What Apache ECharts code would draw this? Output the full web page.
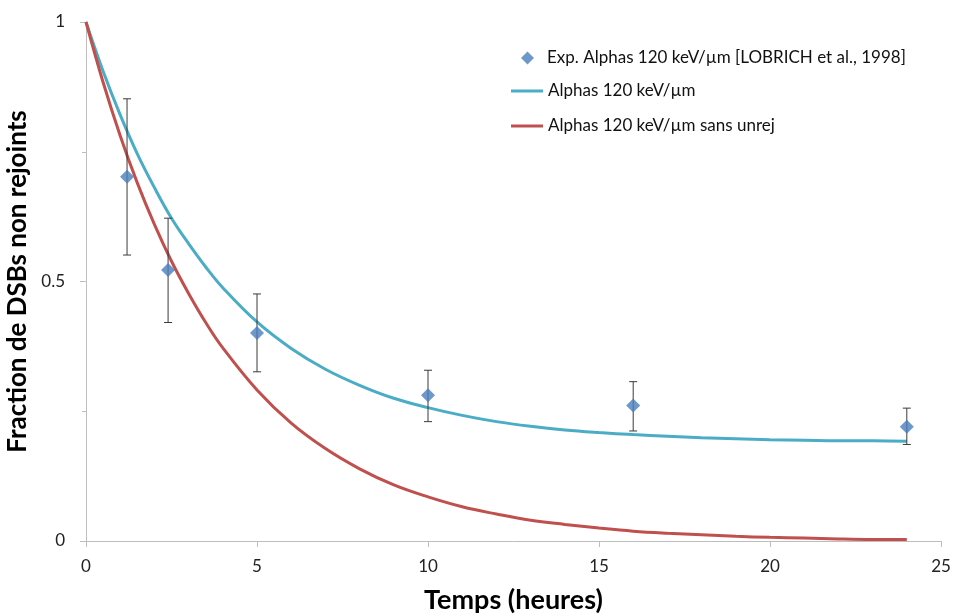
<!DOCTYPE html>
<html>
<head>
<meta charset="utf-8">
<script src="https://cdn.jsdelivr.net/npm/echarts@6/dist/echarts.min.js"></script>
<style>html,body{margin:0;padding:0;background:#fff}#c{width:957px;height:616px}</style>
</head>
<body>
<div id="c"></div>
<script>
// Experimental points (Lobrich et al., 1998)
var expT = [1.2, 2.4, 5, 10, 16, 24];
var expY = [0.702, 0.522, 0.401, 0.281, 0.261, 0.220];
var errLo = [0.551, 0.421, 0.326, 0.230, 0.212, 0.186];
var errHi = [0.852, 0.622, 0.476, 0.329, 0.307, 0.256];

// Curves
var curveT = [0,0.5,1,1.5,2,2.5,3,3.5,4,5,6,7,8,9,10,11,12,13,14,15,16,17,18,19,20,21,22,23,24];
var blueY = [1.000,0.905,0.821,0.746,0.681,0.622,0.573,0.528,0.488,0.422,0.371,0.331,0.300,0.275,0.257,0.242,0.230,0.221,0.214,0.209,0.205,0.202,0.199,0.197,0.195,0.194,0.193,0.193,0.192];
var redY  = [1.000,0.884,0.781,0.690,0.610,0.539,0.477,0.421,0.372,0.291,0.227,0.178,0.139,0.108,0.085,0.066,0.052,0.040,0.032,0.025,0.019,0.015,0.012,0.009,0.007,0.006,0.004,0.003,0.003];

var nameExp = 'Exp. Alphas 120 keV/µm [LOBRICH et al., 1998]';
var nameBlue = 'Alphas 120 keV/µm';
var nameRed = 'Alphas 120 keV/µm sans unrej';

function pairs(xs, ys){ return xs.map(function(x,i){ return [x, ys[i]]; }); }
var errData = expT.map(function(x,i){ return [x, errLo[i], errHi[i]]; });

var FONT = 'Lato, "Open Sans", sans-serif';
var chart = echarts.init(document.getElementById('c'), null, {renderer:'canvas'});
chart.setOption({
  animation: false,
  backgroundColor: '#fff',
  textStyle: {fontFamily: FONT},
  grid: {left: 86, right: 16, top: 22, bottom: 75, containLabel: false, outerBoundsMode: 'none'},
  legend: [{
    data: [{name: nameExp, icon: 'diamond'}],
    left: 521, top: 49, orient: 'vertical', padding: 0,
    itemWidth: 13, itemHeight: 13,
    textStyle: {fontFamily: FONT, fontSize: 17, color: '#111', lineHeight: 18, padding: [0,0,0,8]}
  },{
    data: [{name: nameBlue, icon: 'rect'}, {name: nameRed, icon: 'rect'}],
    left: 511, top: 82, orient: 'vertical', itemGap: 17, padding: 0,
    itemWidth: 32, itemHeight: 3,
    textStyle: {fontFamily: FONT, fontSize: 17, color: '#111', lineHeight: 18}
  }],
  xAxis: {
    type: 'value', min: 0, max: 25, interval: 5,
    name: 'Temps (heures)', nameLocation: 'middle', nameGap: 46,
    nameTextStyle: {fontFamily: FONT, fontSize: 27, fontWeight: 'bold', color: '#000'},
    axisLine: {lineStyle: {color: '#bdbdbd', width: 1}},
    axisTick: {show: true, length: 6, lineStyle: {color: '#bdbdbd'}},
    axisLabel: {fontFamily: FONT, fontSize: 17, color: '#222', margin: 17},
    splitLine: {show: false}
  },
  yAxis: {
    type: 'value', min: 0, max: 1, interval: 0.5,
    name: 'Fraction de DSBs non rejoints', nameLocation: 'middle', nameGap: 34,
    nameTextStyle: {fontFamily: FONT, fontSize: 26, fontWeight: 'bold', color: '#000'},
    axisLine: {show: true, lineStyle: {color: '#bdbdbd', width: 1}},
    axisTick: {show: true, length: 6, lineStyle: {color: '#bdbdbd'}},
    minorTick: {show: true, splitNumber: 2, length: 4, lineStyle: {color: '#bdbdbd'}},
    axisLabel: {fontFamily: FONT, fontSize: 17, color: '#222', margin: 21},
    splitLine: {show: false}
  },
  series: [{
    name: nameBlue, type: 'line', data: pairs(curveT, blueY),
    smooth: 0.4, showSymbol: false, symbol: 'none',
    lineStyle: {color: '#4bacc6', width: 3}, itemStyle: {color: '#4bacc6'}, z: 3
  },{
    name: nameRed, type: 'line', data: pairs(curveT, redY),
    smooth: 0.4, showSymbol: false, symbol: 'none',
    lineStyle: {color: '#c0504d', width: 3}, itemStyle: {color: '#c0504d'}, z: 3
  },{
    name: 'err', type: 'custom', data: errData, z: 4,
    renderItem: function(params, api){
      var x = api.value(0);
      var lo = api.coord([x, api.value(1)]);
      var hi = api.coord([x, api.value(2)]);
      var w = 4;
      var st = {stroke: '#3a3a3a', lineWidth: 1};
      return {type: 'group', children: [
        {type: 'line', shape: {x1: lo[0], y1: lo[1], x2: hi[0], y2: hi[1]}, style: st},
        {type: 'line', shape: {x1: lo[0]-w, y1: lo[1], x2: lo[0]+w, y2: lo[1]}, style: st},
        {type: 'line', shape: {x1: hi[0]-w, y1: hi[1], x2: hi[0]+w, y2: hi[1]}, style: st}
      ]};
    },
    encode: {x: 0, y: [1, 2]}
  },{
    name: nameExp, type: 'scatter', data: pairs(expT, expY),
    symbol: 'diamond', symbolSize: 14,
    itemStyle: {color: '#4a7ebb'}, z: 5
  }]
});
</script>
</body>
</html>
